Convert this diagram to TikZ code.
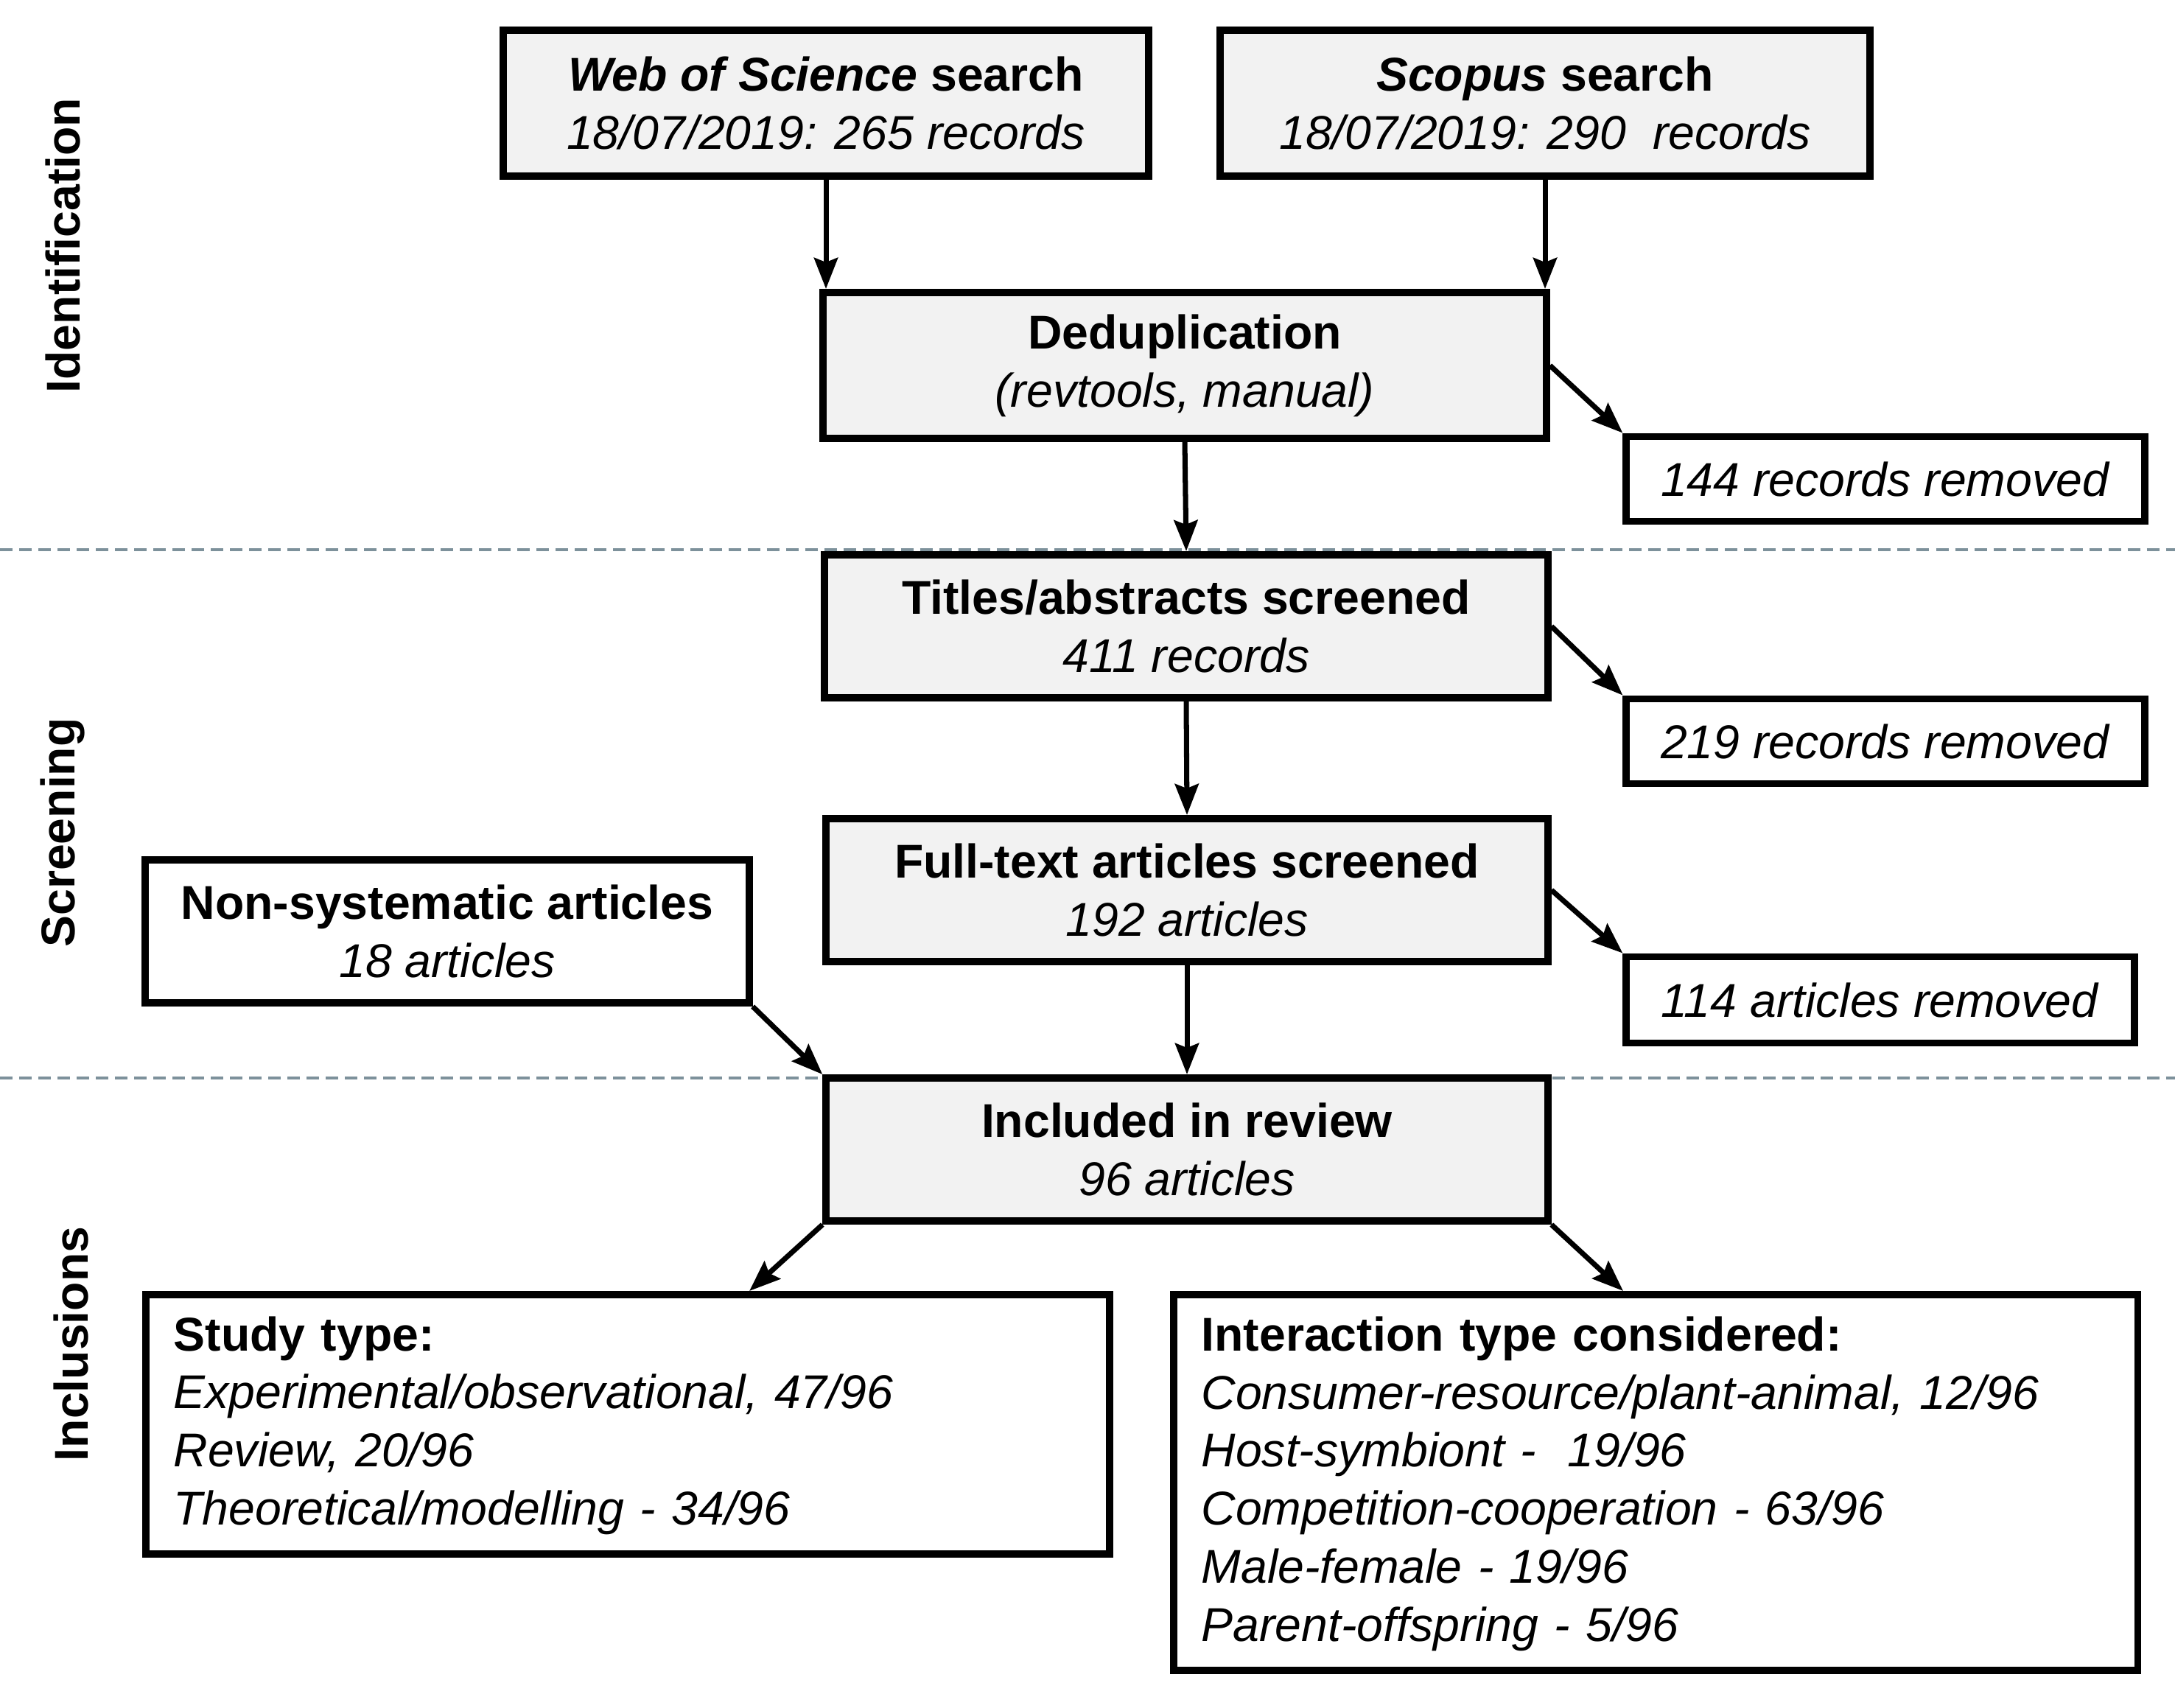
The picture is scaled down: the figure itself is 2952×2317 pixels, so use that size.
\documentclass[tikz,border=0pt]{standalone}
\usepackage{fontspec}
\setmainfont{Liberation Sans}
\usetikzlibrary{arrows.meta,calc}
\definecolor{boxgray}{RGB}{242,242,242}
\definecolor{sepcol}{RGB}{125,145,155}
\begin{document}
\begin{tikzpicture}[x=0.01cm,y=-0.01cm,
  every node/.style={font=\fontsize{18.3}{22.4}\selectfont},
  box/.style={draw=black,line width=2.8pt,inner sep=0pt,align=center},
  gbox/.style={box,fill=boxgray},
  lbox/.style={box,align=left,inner xsep=0.38cm},
  arr/.style={line width=2pt,-{Stealth[length=0.42cm,width=0.32cm,inset=0.06cm]}},
  sepline/.style={draw=sepcol,line width=1.2pt,dash pattern=on 0.17cm off 0.09cm},
  lab/.style={rotate=90,font=\fontsize{18.3}{22.4}\selectfont\bfseries}
]
\fill[white] (0,0) rectangle (2952,2317);
\useasboundingbox (0,0) rectangle (2952,2317);

% separators
\draw[sepline] (0,746) -- (2952,746);
\draw[sepline] (0,1463) -- (2952,1463);

% stage labels
\node[lab] (lid) at (85,333) {Identification};
\node[lab] (lsc) at (85,1130) {Screening};
\node[lab] (lin) at (96,1824) {Inclusions};

% boxes
\node[gbox,minimum width=8.76cm,minimum height=1.98cm] (wos) at (1121,140)
  {\textbf{\textit{Web of Science} search}\\\textit{18/07/2019: 265 records}};
\node[gbox,minimum width=8.81cm,minimum height=1.98cm] (sco) at (2097,140)
  {\textbf{\textit{Scopus} search}\\\textit{18/07/2019: 290\ \ records}};
\node[gbox,minimum width=9.81cm,minimum height=1.98cm] (dedup) at (1608,496)
  {\textbf{Deduplication}\\\textit{(revtools, manual)}};
\node[box,minimum width=7.03cm,minimum height=1.15cm] (rem1) at (2559,650)
  {\textit{144 records removed}};
\node[gbox,minimum width=9.81cm,minimum height=1.94cm] (tit) at (1610,850)
  {\textbf{Titles/abstracts screened}\\\textit{411 records}};
\node[box,minimum width=7.03cm,minimum height=1.15cm] (rem2) at (2559,1006)
  {\textit{219 records removed}};
\node[gbox,minimum width=9.79cm,minimum height=1.94cm] (full) at (1611,1208)
  {\textbf{Full-text articles screened}\\\textit{192 articles}};
\node[box,minimum width=8.19cm,minimum height=1.94cm] (nons) at (607,1264)
  {\textbf{Non-systematic articles}\\\textit{18 articles}};
\node[box,minimum width=6.89cm,minimum height=1.17cm] (rem3) at (2552,1357)
  {\textit{114 articles removed}};
\node[gbox,minimum width=9.79cm,minimum height=1.94cm] (incl) at (1611,1560)
  {\textbf{Included in review}\\\textit{96 articles}};
\node[lbox,text width=12.32cm,minimum height=3.52cm] (study) at (852,1933)
  {\rule{0pt}{0.5cm}\textbf{Study type:}\\\textit{Experimental/observational, 47/96}\\\textit{Review, 20/96}\\\textit{Theoretical/modelling - 34/96}};
\node[lbox,text width=12.32cm,minimum height=5.10cm] (inter) at (2247,2012)
  {\rule{0pt}{0.5cm}\textbf{Interaction type considered:}\\\textit{Consumer-resource/plant-animal, 12/96}\\\textit{Host-symbiont -\ \ 19/96}\\\textit{Competition-cooperation - 63/96}\\\textit{Male-female - 19/96}\\\textit{Parent-offspring - 5/96}};

\coordinate (sa) at ([xshift=1.65cm]study.north);
\coordinate (ia) at ([xshift=-0.44cm]inter.north);

% connectors
\draw[arr] (wos.south) -- (wos.south |- dedup.north);
\draw[arr] (sco.south) -- (sco.south |- dedup.north);
\draw[arr] (dedup.south) -- (tit.north);
\draw[arr] (dedup.east) -- (rem1.north west);
\draw[arr] (tit.south) -- (full.north);
\draw[arr] (tit.east) -- (rem2.north west);
\draw[arr] (full.south) -- (incl.north);
\draw[arr] (full.east) -- (rem3.north west);
\draw[arr] (nons.south east) -- (incl.north west);
\draw[arr] (incl.south west) -- (sa);
\draw[arr] (incl.south east) -- (ia);
\end{tikzpicture}
\end{document}
